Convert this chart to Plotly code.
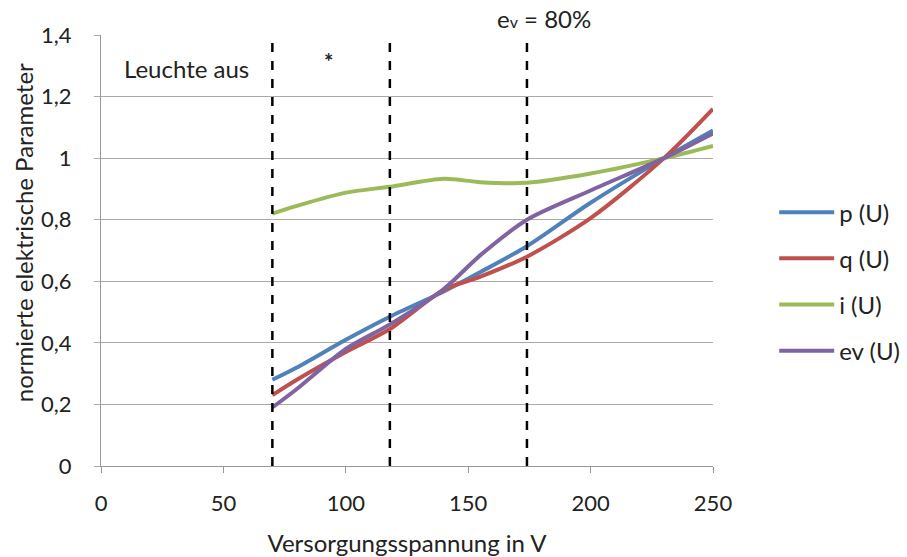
import plotly.graph_objects as go

# Supply voltage (V) and normalized electrical parameters
voltage = [70, 80, 100, 118, 140, 155, 174, 200, 230, 250]
p_u = [0.28, 0.32, 0.41, 0.485, 0.567, 0.63, 0.714, 0.855, 1.0, 1.09]
q_u = [0.23, 0.28, 0.37, 0.445, 0.572, 0.615, 0.68, 0.805, 1.0, 1.16]
i_u = [0.82, 0.845, 0.888, 0.907, 0.933, 0.922, 0.92, 0.95, 1.0, 1.04]
ev_u = [0.19, 0.25, 0.38, 0.46, 0.575, 0.685, 0.80, 0.895, 1.0, 1.08]

series = [
    ("p (U)", p_u, "#4F81BD"),
    ("q (U)", q_u, "#C0504D"),
    ("i (U)", i_u, "#9BBB59"),
    ("ev (U)", ev_u, "#8064A2"),
]

# Vertical markers: lamp switch-off, intermediate point, ev = 80 %
marker_voltages = [70, 118, 174]

y_ticks = [0, 0.2, 0.4, 0.6, 0.8, 1.0, 1.2, 1.4]
y_tick_labels = ["0", "0,2", "0,4", "0,6", "0,8", "1", "1,2", "1,4"]
x_ticks = [0, 50, 100, 150, 200, 250]

font_family = "Lato, Open Sans, sans-serif"
text_color = "#222"

fig = go.Figure()
for name, vals, color in series:
    fig.add_trace(go.Scatter(
        x=voltage, y=vals, name=name, legendgroup=name, mode="lines",
        line=dict(color=color, width=4, shape="spline", smoothing=0.8),
    ))

for v in marker_voltages:
    fig.add_shape(type="line", xref="x", yref="paper", x0=v, x1=v, y0=0, y1=1,
                  line=dict(color="black", width=2.5, dash="dash"), layer="above")

fig.add_annotation(x=8.5, y=1.29, xref="x", yref="y", text="Leuchte aus",
                   showarrow=False, xanchor="left", font=dict(size=24, color=text_color))
fig.add_annotation(x=93, y=1.315, xref="x", yref="y", text="<b>*</b>",
                   showarrow=False, font=dict(size=22, color=text_color))
fig.add_annotation(x=161, y=1.0, xref="x", yref="paper",
                   text="e<span style='font-size:16px'>v</span> = 80%",
                   showarrow=False, xanchor="left", yanchor="bottom",
                   font=dict(size=24, color=text_color))
# Vertical value-axis caption, placed slightly above the plot centre
fig.add_annotation(x=0, y=0.54, xref="paper", yref="paper", xanchor="center",
                   yanchor="middle", xshift=-78, textangle=-90,
                   text="normierte elektrische Parameter", showarrow=False,
                   font=dict(size=24, color=text_color))

fig.update_layout(
    width=907, height=557,
    margin=dict(l=101, r=194, t=35, b=91, autoexpand=False),
    paper_bgcolor="white", plot_bgcolor="white",
    font=dict(family=font_family, size=24, color=text_color),
    showlegend=True,
    legend=dict(x=1.1, y=0.428, xanchor="left", yanchor="middle",
                font=dict(size=24), tracegroupgap=12, itemwidth=55,
                bgcolor="rgba(0,0,0,0)"),
    xaxis=dict(
        range=[0, 250], tickvals=x_ticks, showgrid=False, zeroline=False,
        showline=True, linecolor="#999", linewidth=1,
        ticks="outside", ticklen=6, tickcolor="#999",
        tickfont=dict(size=22), ticklabelstandoff=12,
        title=dict(text="Versorgungsspannung in V", font=dict(size=24), standoff=20),
    ),
    yaxis=dict(
        range=[0, 1.4], tickvals=y_ticks, ticktext=y_tick_labels,
        showgrid=True, gridcolor="#aaa", gridwidth=1, zeroline=False,
        showline=True, linecolor="#999", linewidth=1,
        ticks="outside", ticklen=6, tickcolor="#aaa",
        tickfont=dict(size=22), ticklabelstandoff=18,
    ),
)

fig.write_html("out.html")
